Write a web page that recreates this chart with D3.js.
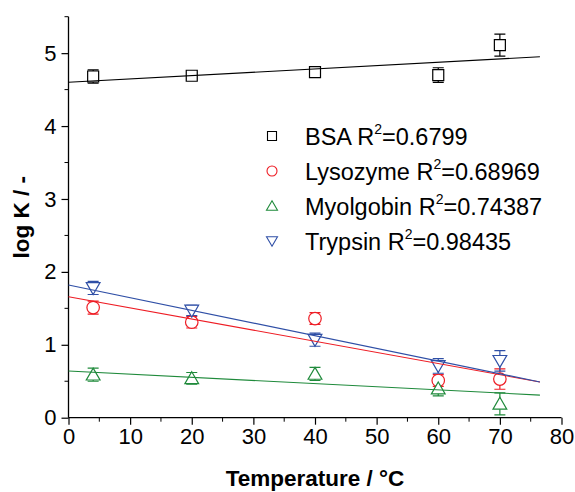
<!DOCTYPE html>
<html>
<head>
<meta charset="utf-8">
<script src="https://cdn.jsdelivr.net/npm/d3@7"></script>
<style>
    body { margin: 0; background: #fff; }
    text { font-family: "Liberation Sans", Arial, sans-serif; fill: #000; }
</style>
</head>
<body>
<svg id="chart" width="575" height="492"></svg>
<script>
// temperatures (°C)
var temps = [4, 20, 40, 60, 70]

var seriesNames = ["BSA", "Lysozyme", "Myolgobin", "Trypsin"]
var r2Labels = ["0.6799", "0.68969", "0.74387", "0.98435"]

// log K values
var bsaValues = [4.68, 4.69, 4.74, 4.70, 5.11]
var lysozymeValues = [1.51, 1.31, 1.36, 0.51, 0.53]
var myoglobinValues = [0.59, 0.54, 0.60, 0.40, 0.19]
var trypsinValues = [1.78, 1.47, 1.07, 0.71, 0.78]

// error bar half heights
var bsaErrors = [0.09, 0.04, 0.06, 0.10, 0.15]
var lysozymeErrors = [0.09, 0.08, 0.08, 0.08, 0.14]
var myoglobinErrors = [0.09, 0.08, 0.09, 0.10, 0.15]
var trypsinErrors = [0.09, 0.07, 0.09, 0.10, 0.14]

// linear fits: value at T=0 and at T=76.5
var fitRange = [0, 76.5]
var fitStartValues = [4.60, 1.66, 0.64, 1.82]
var fitEndValues = [4.95, 0.49, 0.31, 0.49]

var xTicks = [0, 10, 20, 30, 40, 50, 60, 70, 80]
var yTicks = [0, 1, 2, 3, 4, 5]

var colors = ["#000000", "#ee1c24", "#1f8a3b", "#2f4fa6"]
var symbols = ["square", "circle", "triangle", "triangleDown"]

var svg = d3.select("#chart")

var x = d3.scaleLinear().domain([0, 80]).range([68.5, 561.5])
var y = d3.scaleLinear().domain([0, 5.5]).range([417.7, 16.7])

// 画符号
function symbolPath(type, s) {
    var h = s / 2
    if (type === "square") return "M" + (-h) + "," + (-h) + "h" + s + "v" + s + "h" + (-s) + "Z"
    if (type === "triangle") return "M0," + (-h * 1.05) + "L" + (h * 1.1) + "," + (h * 0.85) + "L" + (-h * 1.1) + "," + (h * 0.85) + "Z"
    if (type === "triangleDown") return "M0," + (h * 1.05) + "L" + (h * 1.1) + "," + (-h * 0.85) + "L" + (-h * 1.1) + "," + (-h * 0.85) + "Z"
    return d3.arc()({innerRadius: 0, outerRadius: h, startAngle: 0, endAngle: 2 * Math.PI})
}

// axes
var xAxis = d3.axisBottom(x).tickValues(xTicks).tickSize(7).tickPadding(4).tickFormat(d3.format("d"))
var yAxis = d3.axisLeft(y).tickValues(yTicks).tickSize(7).tickPadding(5).tickFormat(d3.format("d"))

var gx = svg.append("g").attr("transform", "translate(0," + y(0) + ")").call(xAxis)
var gy = svg.append("g").attr("transform", "translate(" + x(0) + ",0)").call(yAxis)

// minor ticks
gx.selectAll(".minor").data(d3.range(5, 80, 10)).enter()
    .append("line").attr("class", "minor")
    .attr("x1", d => x(d)).attr("x2", d => x(d))
    .attr("y1", 0).attr("y2", 4).attr("stroke", "#000")
gy.selectAll(".minor").data(d3.range(0.5, 5.6, 1)).enter()
    .append("line").attr("class", "minor")
    .attr("y1", d => y(d)).attr("y2", d => y(d))
    .attr("x1", 0).attr("x2", -4).attr("stroke", "#000")

svg.selectAll(".domain").attr("stroke", "#000").attr("stroke-width", 1.3)
gx.select(".domain").attr("d", "M" + x(0) + ",0H" + x(80))
gy.select(".domain").attr("d", "M0," + y(0) + "V" + y(5.5))
svg.selectAll(".tick line").attr("stroke", "#000").attr("stroke-width", 1.2)
svg.selectAll(".tick text").attr("font-size", 22)

// axis titles
svg.append("text")
    .attr("x", (x(0) + x(80)) / 2).attr("y", 486)
    .attr("text-anchor", "middle")
    .attr("font-size", 22.5).attr("font-weight", "bold")
    .text("Temperature / °C")

svg.append("text")
    .attr("transform", "translate(29," + ((y(0) + y(5.5)) / 2) + ") rotate(-90)")
    .attr("text-anchor", "middle")
    .attr("font-size", 22.5).attr("font-weight", "bold")
    .text("log K / -")

var allValues = [bsaValues, lysozymeValues, myoglobinValues, trypsinValues]
var allErrors = [bsaErrors, lysozymeErrors, myoglobinErrors, trypsinErrors]

var plot = svg.append("g")

// error bars
allValues.forEach(function (vals, i) {
    var pts = temps.map((t, j) => ({t: t, v: vals[j], e: allErrors[i][j]}))
    var g = plot.append("g").attr("stroke", colors[i]).attr("stroke-width", 1.2)
    g.selectAll(".eb").data(pts).enter().append("path")
        .attr("fill", "none")
        .attr("d", d => "M" + x(d.t) + "," + y(d.v + d.e) + "V" + y(d.v - d.e)
            + "M" + (x(d.t) - 5.5) + "," + y(d.v + d.e) + "h11"
            + "M" + (x(d.t) - 5.5) + "," + y(d.v - d.e) + "h11")
})

// markers
allValues.forEach(function (vals, i) {
    plot.append("g").selectAll("path").data(vals).enter().append("path")
        .attr("transform", (d, j) => "translate(" + x(temps[j]) + "," + y(d) + ")")
        .attr("d", symbolPath(symbols[i], i === 0 ? 11 : 12.5))
        .attr("fill", "#fff")
        .attr("stroke", colors[i])
        .attr("stroke-width", 1.2)
})

// fit lines
fitStartValues.forEach(function (v0, i) {
    plot.append("line")
        .attr("x1", x(fitRange[0])).attr("y1", y(v0))
        .attr("x2", x(fitRange[1])).attr("y2", y(fitEndValues[i]))
        .attr("stroke", colors[i]).attr("stroke-width", 1.1)
})

// legend
var legend = svg.append("g")
seriesNames.forEach(function (name, i) {
    var cy = 136 + i * 35
    legend.append("path")
        .attr("transform", "translate(272," + cy + ")")
        .attr("d", symbolPath(symbols[i], i === 0 ? 9 : 10))
        .attr("fill", "none").attr("stroke", colors[i]).attr("stroke-width", 1.1)
    var t = legend.append("text")
        .attr("x", 305).attr("y", cy + 8.5)
        .attr("font-size", 23.5)
    t.append("tspan").text(name + " R")
    t.append("tspan").attr("font-size", 14).attr("dy", -11).text("2")
    t.append("tspan").attr("dy", 11).text("=" + r2Labels[i])
})
</script>
</body>
</html>
